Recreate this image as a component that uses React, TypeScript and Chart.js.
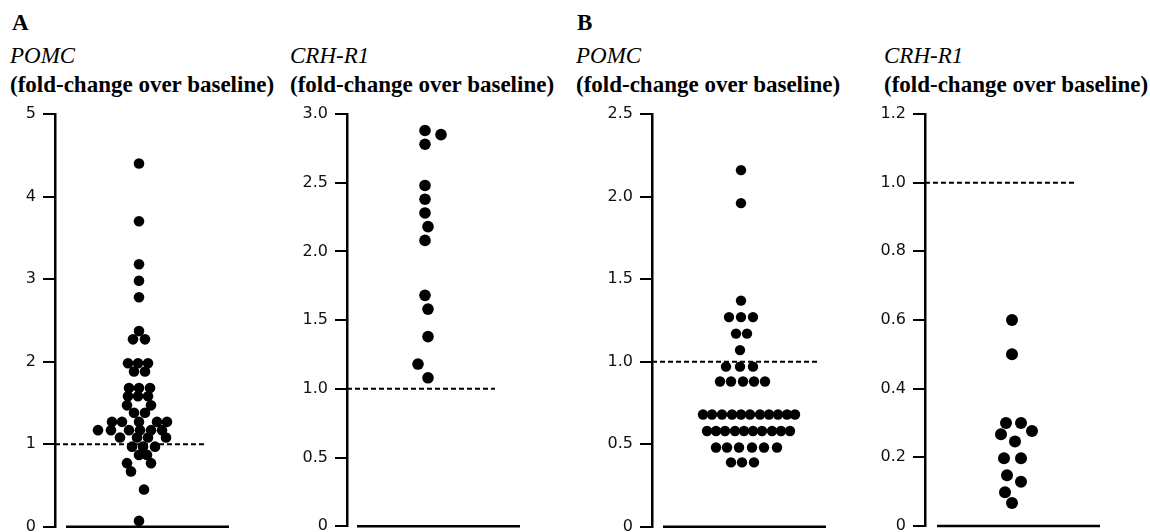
import React, { useEffect, useRef } from "react";
import { Chart, registerables } from "chart.js";

Chart.register(...registerables);

// ---------- Panel A: POMC ----------
const pomcAValues = [
  4.4, 3.7, 3.18, 2.98, 2.78, 2.37, 2.27, 2.27,
  1.98, 1.98, 1.98, 1.88, 1.88,
  1.68, 1.68, 1.68, 1.58, 1.58, 1.58,
  1.47, 1.47, 1.38, 1.38,
  1.27, 1.27, 1.27, 1.27, 1.27,
  1.17, 1.17, 1.17, 1.17, 1.17, 1.17,
  1.08, 1.08, 1.08, 1.08,
  0.97, 0.97, 0.97, 0.87, 0.87,
  0.77, 0.77, 0.67, 0.45, 0.07,
];
const pomcAJitter = [
  0, 0, 0, 0, 0, 0, -6, 6,
  -11, -1, 9, -5, 6,
  -10, 0, 11, -11, -1, 9,
  -12, 12, -5, 6,
  -27, -17, 0, 18, 28,
  -41, -28, -10, 1, 12, 23,
  -19, -2, 9, 27,
  -7, 4, 16, 0, 8,
  -12, 12, -8, 5, 0,
];
const pomcATicks = [0, 1, 2, 3, 4, 5];
const pomcATickLabels = ["0", "1", "2", "3", "4", "5"];

// ---------- Panel A: CRH-R1 ----------
const crhAValues = [2.88, 2.85, 2.78, 2.48, 2.38, 2.28, 2.18, 2.08, 1.68, 1.58, 1.38, 1.18, 1.08];
const crhAJitter = [0, 16, 0, 0, 0, 0, 3, 0, 0, 3, 3, -7, 3];
const crhATicks = [0, 0.5, 1, 1.5, 2, 2.5, 3];
const crhATickLabels = ["0", "0.5", "1.0", "1.5", "2.0", "2.5", "3.0"];

// ---------- Panel B: POMC ----------
const pomcBValues = [
  2.16, 1.96, 1.37,
  1.27, 1.27, 1.27,
  1.17, 1.17, 1.07,
  0.97, 0.97, 0.97,
  0.88, 0.88, 0.88, 0.88, 0.88,
  0.68, 0.68, 0.68, 0.68, 0.68, 0.68, 0.68, 0.68, 0.68, 0.68, 0.68,
  0.58, 0.58, 0.58, 0.58, 0.58, 0.58, 0.58, 0.58, 0.58, 0.58,
  0.48, 0.48, 0.48, 0.48, 0.48, 0.48,
  0.39, 0.39, 0.39,
];
const pomcBJitter = [
  0, 0, 0,
  -12, 0, 12,
  -5, 6, -1,
  -15, -1, 12,
  -21, -10, 2, 13, 24,
  -38, -29, -19, -9, 0, 9, 19, 28, 37, 46, 54,
  -34, -25, -16, -6, 3, 12, 21, 31, 40, 49,
  -25, -14, -2, 11, 23, 36,
  -10, 1, 13,
];
const pomcBTicks = [0, 0.5, 1, 1.5, 2, 2.5];
const pomcBTickLabels = ["0", "0.5", "1.0", "1.5", "2.0", "2.5"];

// ---------- Panel B: CRH-R1 ----------
const crhBValues = [0.6, 0.5, 0.3, 0.3, 0.267, 0.277, 0.246, 0.197, 0.197, 0.148, 0.129, 0.098, 0.067];
const crhBJitter = [0, 0, -6, 9, -11, 20, 3, -8, 9, -5, 9, -7, 0];
const crhBTicks = [0, 0.2, 0.4, 0.6, 0.8, 1.0, 1.2];
const crhBTickLabels = ["0", "0.2", "0.4", "0.6", "0.8", "1.0", "1.2"];

const referenceLevel = 1.0;

type PanelCfg = {
  values: number[];
  jitter: number[];
  ticks: number[];
  tickLabels: string[];
  yMax: number;
  axisX: number; // page x of y-axis line
  xMin: number;
  xMax: number;
  baseStart: number;
  dashEnd: number;
  radius: number;
};

const panels: PanelCfg[] = [
  { values: pomcAValues, jitter: pomcAJitter, ticks: pomcATicks, tickLabels: pomcATickLabels, yMax: 5,
    axisX: 55, xMin: -84, xMax: 90, baseStart: -73, dashEnd: 65, radius: 5.3 },
  { values: crhAValues, jitter: crhAJitter, ticks: crhATicks, tickLabels: crhATickLabels, yMax: 3,
    axisX: 347, xMin: -78, xMax: 95, baseStart: -68, dashEnd: 70, radius: 5.8 },
  { values: pomcBValues, jitter: pomcBJitter, ticks: pomcBTicks, tickLabels: pomcBTickLabels, yMax: 2.5,
    axisX: 652, xMin: -89, xMax: 85, baseStart: -78, dashEnd: 76, radius: 5.2 },
  { values: crhBValues, jitter: crhBJitter, ticks: crhBTicks, tickLabels: crhBTickLabels, yMax: 1.2,
    axisX: 925, xMin: -87, xMax: 88, baseStart: -75, dashEnd: 63, radius: 6 },
];

const AXIS_W = 55;
const PAD_R = 10;
const H = 532;

function Panel({ cfg }: { cfg: PanelCfg }) {
  const ref = useRef<HTMLCanvasElement | null>(null);
  const left = cfg.axisX - AXIS_W;
  const plotW = cfg.xMax - cfg.xMin;
  const width = AXIS_W + plotW + PAD_R;

  useEffect(() => {
    if (!ref.current) return;
    const chart = new Chart(ref.current, {
      type: "scatter",
      data: {
        datasets: [
          {
            type: "scatter",
            data: cfg.values.map((v, i) => ({ x: cfg.jitter[i], y: v })),
            pointRadius: cfg.radius,
            pointHoverRadius: cfg.radius,
            pointBackgroundColor: "#000",
            pointBorderWidth: 0,
            pointStyle: "circle",
            clip: false,
          } as any,
          {
            type: "line",
            data: [
              { x: cfg.xMin, y: referenceLevel },
              { x: cfg.dashEnd, y: referenceLevel },
            ],
            borderColor: "#000",
            borderWidth: 2,
            borderDash: [5, 3],
            pointRadius: 0,
            clip: false,
          } as any,
          {
            type: "line",
            data: [
              { x: cfg.baseStart, y: 0 },
              { x: cfg.xMax, y: 0 },
            ],
            borderColor: "#000",
            borderWidth: 2.5,
            pointRadius: 0,
            clip: false,
          } as any,
        ],
      },
      options: {
        animation: false,
        responsive: false,
        events: [],
        layout: { padding: { top: 114, bottom: 5, left: 0, right: PAD_R } },
        plugins: { legend: { display: false }, tooltip: { enabled: false } },
        scales: {
          x: { type: "linear", min: cfg.xMin, max: cfg.xMax, display: false },
          y: {
            type: "linear",
            min: 0,
            max: cfg.yMax,
            afterBuildTicks: (s: any) => {
              s.ticks = cfg.ticks.map((v) => ({ value: v }));
            },
            afterFit: (s: any) => {
              s.width = AXIS_W;
              s.paddingTop = 0;
              s.paddingBottom = 0;
            },
            ticks: {
              autoSkip: false,
              padding: 7,
              color: "#111",
              font: { family: "DejaVu Sans", size: 16 },
              callback: (_v: any, i: number) => cfg.tickLabels[i],
            },
            grid: {
              drawOnChartArea: false,
              drawTicks: true,
              tickLength: 12,
              color: "#000",
              lineWidth: 2,
            },
            border: { display: true, color: "#000", width: 2.5 },
          },
        },
      } as any,
    });
    return () => chart.destroy();
  }, []);

  return (
    <canvas
      ref={ref}
      width={width}
      height={H}
      style={{ position: "absolute", left, top: 0 }}
    />
  );
}

const serif = '"Liberation Serif", "Times New Roman", serif';
const txtBase: React.CSSProperties = {
  position: "absolute",
  fontFamily: serif,
  fontSize: 23,
  lineHeight: "23px",
  whiteSpace: "nowrap",
  color: "#000",
  margin: 0,
};

const panelLetters = [
  { text: "A", x: 12 },
  { text: "B", x: 577 },
];
const geneNames = [
  { text: "POMC", x: 10 },
  { text: "CRH-R1", x: 290 },
  { text: "POMC", x: 576 },
  { text: "CRH-R1", x: 884 },
];
const unitLabel = "(fold-change over baseline)";

export default function App() {
  return (
    <div style={{ position: "absolute", left: 0, top: 0, width: 1150, height: H, background: "#fff", overflow: "hidden" }}>
      {panelLetters.map((p, i) => (
        <div key={"l" + i} style={{ ...txtBase, left: p.x, top: 11, fontWeight: "bold" }}>{p.text}</div>
      ))}
      {geneNames.map((g, i) => (
        <div key={"g" + i} style={{ ...txtBase, left: g.x, top: 44, fontStyle: "italic" }}>{g.text}</div>
      ))}
      {geneNames.map((g, i) => (
        <div key={"u" + i} style={{ ...txtBase, left: g.x, top: 73, fontWeight: "bold" }}>{unitLabel}</div>
      ))}
      {panels.map((p, i) => (
        <Panel key={i} cfg={p} />
      ))}
    </div>
  );
}
